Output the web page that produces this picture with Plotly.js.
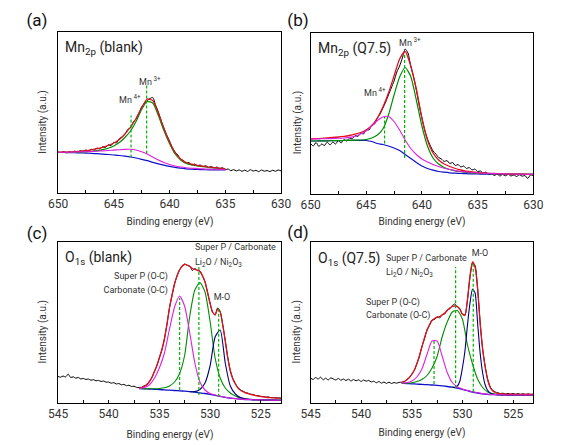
<!DOCTYPE html>
<html>
<head>
<meta charset="utf-8">
<script src="https://cdn.plot.ly/plotly-3.0.1.min.js"></script>
<style>html,body{margin:0;padding:0;background:#fff;}#chart{width:581px;height:445px;}</style>
</head>
<body>
<div id="chart"></div>
<script>
// ---------------- DATA ----------------
// Panel (a) Mn2p (blank): fits sampled from 650 to 635 eV every 0.5 eV, data 650 -> 630 every 0.25 eV
const aFitStart = 650, aFitStep = -0.5;
const aDataStart = 650, aDataStep = -0.25;
const aRed = [40.3,40.4,40.6,40.9,41.3,41.9,42.7,43.8,45.2,47.0,49.5,53.0,58.5,65.5,74.0,85.0,93.5,92.0,79.5,64.0,50.5,40.0,33.5,30.0,28.3,27.2,26.3,25.5,24.9,24.3,24.0];
const aGreen = [40.0,40.0,40.1,40.2,40.4,40.7,41.0,41.8,42.8,44.2,46.5,50.0,55.0,61.5,71.0,83.0,91.0,89.5,77.0,62.0,49.0,38.5,32.5,29.0,27.5,26.5,25.8,25.0,24.5,24.0,23.7];
const aMagenta = [40.2,40.2,40.3,40.4,40.6,40.8,41.0,41.3,41.6,42.0,42.4,42.8,43.1,43.2,42.5,40.8,38.5,35.5,32.5,30.0,28.0,26.5,25.5,24.8,24.3,23.9,23.6,23.4,23.2,23.0,22.9];
const aBlue = [40.0,40.0,39.9,39.8,39.6,39.4,39.1,38.8,38.4,38.0,37.5,37.0,36.3,35.5,34.5,33.2,31.8,30.2,28.7,27.3,26.1,25.1,24.3,23.7,23.3,23.0,22.8,22.7,22.6,22.5,22.5];
const aData = [40.5,40.0,41.0,39.8,40.6,40.2,41.4,40.5,41.8,41.0,
  42.5,41.6,43.2,42.4,44.5,43.6,45.8,45.0,47.8,46.8,
  50.2,49.5,54.0,55.5,58.0,63.0,64.5,70.5,73.5,79.0,
  85.5,89.0,92.0,94.0,95.0,87.5,80.5,72.0,64.5,57.5,
  51.5,45.0,40.5,37.5,33.0,32.0,29.5,30.0,27.5,28.5,
  26.8,27.5,25.8,26.8,25.0,26.0,24.5,25.5,23.8,24.8,
  22.8,23.5,21.8,22.9,21.5,22.6,21.2,22.4,21.0,22.8,
  21.4,22.2,20.8,22.5,21.3,22.0,20.9,22.3,21.2,22.5,
  21.6];
const aPeakEv = [643.45, 642.05];
const aPeakBase = [35, 39];
const aPeakTop = [77, 107];
const aPeakLabels = ["Mn<sup> 4+</sup>", "Mn<sup> 3+</sup>"];

// Panel (b) Mn2p (Q7.5): fits 650 -> 630 every 0.5 eV, data 650 -> 630 every 0.25 eV
const bFitStart = 650, bFitStep = -0.5;
const bDataStart = 650, bDataStep = -0.25;
const bRed = [55.0,55.3,55.6,56.0,56.5,57.0,57.6,58.5,59.8,61.5,64.0,68.5,76.0,87.0,101.0,118.0,135.0,142.5,128.0,105.0,76.0,54.0,41.0,34.0,30.0,27.5,25.5,24.0,22.8,22.0,21.4,21.0,20.7,20.5,20.3,20.1,20.0,19.9,19.8,19.7,19.7];
const bGreen = [53.0,53.0,53.1,53.2,53.3,53.4,53.5,53.6,53.8,54.0,54.5,56.0,59.0,65.0,79.0,99.0,117.0,126.5,117.5,94.0,68.0,48.0,36.0,30.0,26.5,24.5,23.2,22.3,21.6,21.1,20.8,20.6,20.4,20.2,20.1,20.0,19.9,19.8,19.8,19.7,19.7];
const bMagenta = [55.0,55.1,55.2,55.3,55.5,55.7,56.0,56.6,57.8,60.0,63.0,68.0,73.5,77.0,77.5,72.5,64.0,54.0,45.5,39.5,35.0,32.0,29.5,27.5,25.8,24.5,23.4,22.5,22.0,21.5,21.1,20.8,20.6,20.4,20.2,20.1,20.0,19.9,19.8,19.7,19.7];
const bBlue = [53.0,53.0,53.1,53.2,53.3,53.4,53.5,53.6,53.7,53.7,53.5,52.5,50.5,49.5,48.0,46.0,43.5,39.5,35.5,31.5,28.0,25.5,23.8,22.5,21.8,21.2,20.8,20.5,20.3,20.1,20.0,19.9,19.8,19.8,19.7,19.7,19.7,19.7,19.7,19.7,19.7];
const bData = [50.5,48.0,51.5,47.5,50.0,48.5,51.8,49.0,52.0,50.0,
  53.5,51.0,54.5,53.0,56.0,55.0,58.5,57.5,61.0,60.0,
  64.5,64.0,69.0,70.0,76.0,80.0,86.0,92.0,99.0,106.0,
  113.0,122.0,128.0,136.0,145.0,141.0,128.0,117.0,104.0,89.0,
  76.0,64.0,55.0,48.5,43.0,40.0,36.5,35.0,32.5,33.5,
  30.5,31.5,28.5,29.5,27.0,28.0,25.5,26.5,24.0,25.0,
  22.5,23.0,21.0,22.0,19.5,20.5,18.5,19.8,18.0,19.5,
  18.2,19.6,18.0,19.0,17.5,19.2,17.8,18.5,15.5,19.0,
  18.5];
const bPeakEv = [643.35, 641.55];
const bPeakBase = [50.5, 36];
const bPeakTop = [77, 140];
const bPeakLabels = ["Mn<sup> 4+</sup>", "Mn<sup> 3+</sup>"];

// Panel (c) O1s (blank): fits 537 -> 523 (0.5 eV; red 0.25 eV), navy 532 -> 523, data 545 -> 523 every 0.25 eV
const cFitStart = 537, cFitStep = -0.5;
const cRedStart = 537, cRedStep = -0.25;
const cNavyStart = 532, cNavyStep = -0.5;
const cDataStart = 545, cDataStep = -0.25;
const cBlue = [14.5,14.2,14.0,13.7,13.4,13.1,12.8,12.5,12.2,11.8,11.3,10.8,10.2,9.5,8.6,7.6,6.6,5.7,4.9,4.3,3.8,3.5,3.3,3.1,3.0,2.9,2.8,2.8,2.7];
const cMagenta = [14.6,15.5,18.0,24.5,35.0,50.0,74.0,96.0,107.0,96.5,70.0,40.0,21.0,13.0,9.5,8.0,6.8,5.8,5.0,4.4,3.9,3.6,3.4,3.2,3.1,3.0,2.9,2.8,2.8];
const cGreen = [14.5,14.3,14.2,14.2,14.5,15.2,17.0,21.0,29.5,48.0,87.0,113.0,120.5,111.0,82.0,45.0,25.0,15.0,10.0,7.0,5.0,4.0,3.5,3.2,3.1,3.0,2.9,2.8,2.8];
const cNavy = [11.3,11.4,13.5,20.0,37.0,66.0,73.0,40.0,17.0,9.0,5.5,4.2,3.6,3.3,3.1,3.0,2.9,2.8,2.8];
const cRed = [14.8,15.5,16.5,18.5,21.0,25.5,31.0,37.5,45.0,53.5,
  64.0,79.0,95.0,108.0,119.0,127.5,133.0,137.0,138.5,138.0,
  136.5,134.5,133.5,133.0,131.5,127.5,121.0,111.0,99.5,91.0,
  88.0,94.0,91.0,78.0,62.0,45.0,32.0,24.0,19.0,15.0,
  12.8,11.3,10.2,9.3,8.6,8.0,7.4,6.9,6.5,6.1,
  5.8,5.5,5.3,5.1,4.9,4.8,4.7];
const cData = [26.5,25.8,27.0,26.0,29.0,25.5,26.2,24.8,25.5,24.0,
  24.6,23.5,24.0,22.8,23.3,22.2,22.6,21.5,22.0,20.8,
  21.0,19.8,20.4,19.0,19.5,18.2,18.6,17.3,17.8,16.5,
  16.8,15.6,15.5,15.8,17.2,18.0,21.5,25.0,31.5,37.0,
  45.5,53.0,64.5,78.5,95.5,107.5,119.5,127.0,133.5,136.5,
  139.0,137.5,137.0,132.5,134.5,132.5,132.0,127.0,121.5,110.5,
  100.0,90.5,88.5,95.0,91.5,78.5,62.5,45.5,32.5,24.5,
  19.5,15.5,13.0,11.8,10.5,9.8,8.8,8.5,7.5,7.4,
  6.6,6.5,5.9,6.0,5.4,5.5,5.0,5.2,4.8];
const cPeakEv = [533.0, 531.1, 529.15];
const cPeakBase = [13, 8, 6.3];
const cPeakTop = [105, 136, 95];
const cLabels = ["Super P (O-C)", "Carbonate (O-C)", "Super P / Carbonate", "Li<sub>2</sub>O / Ni<sub>2</sub>O<sub>3</sub>", "M-O"];

// Panel (d) O1s (Q7.5): fits 536 -> 523 (0.5 eV; red & navy 0.25 eV), data 545 -> 523 every 0.25 eV
const dFitStart = 536, dFitStep = -0.5;
const dRedStart = 536, dRedStep = -0.25;
const dNavyStart = 531, dNavyStep = -0.25;
const dDataStart = 545, dDataStep = -0.25;
const dBlue = [19.8,19.5,19.2,18.9,18.6,18.3,18.0,17.6,17.1,16.5,15.8,14.8,13.6,12.3,11.0,10.0,9.2,8.7,8.4,8.2,8.1,8.0,8.0,8.0,8.0,8.0,8.0];
const dMagenta = [19.9,20.3,22.0,26.0,34.0,48.5,62.0,62.0,47.0,30.5,20.5,16.0,14.0,12.5,11.2,10.2,9.4,8.8,8.5,8.3,8.1,8.0,8.0,8.0,8.0,8.0,8.0];
const dGreen = [19.8,19.7,20.3,21.5,23.5,27.5,35.0,46.5,66.0,81.0,91.0,92.5,84.0,58.0,39.0,24.0,15.5,11.0,9.2,8.6,8.3,8.1,8.0,8.0,8.0,8.0,8.0];
const dNavy = [15.8,15.8,17.0,22.0,35.0,52.0,78.0,100.0,114.0,110.0,
  80.0,50.0,30.0,18.0,12.5,10.0,9.0,8.5,8.3,8.2,
  8.1,8.0,8.0,8.0,8.0,8.0,8.0,8.0,8.0,8.0,8.0,8.0,8.0];
const dRed = [20.5,21.5,23.0,25.5,28.5,33.0,39.0,47.0,56.0,65.0,
  72.5,78.5,82.5,84.5,85.5,86.5,88.0,90.0,92.5,95.0,
  96.5,97.0,96.5,93.5,89.0,87.5,103.0,127.0,141.0,136.0,
  115.0,80.0,54.0,36.0,23.0,15.5,12.0,10.5,9.7,9.3,
  9.0,8.9,8.8,8.8,8.7,8.7,8.6,8.6,8.6,8.5,
  8.5,8.5,8.5];
const dData = [25.0,23.5,25.5,24.0,25.8,23.2,24.8,23.0,25.2,24.0,
  23.0,24.5,22.8,24.0,22.5,23.8,22.0,23.5,22.2,23.2,
  21.5,23.0,21.8,22.6,21.0,21.8,20.2,21.5,19.8,21.0,
  19.6,20.8,19.5,20.5,19.8,20.6,20.8,21.2,23.5,25.0,
  29.0,32.5,39.5,46.5,56.5,64.0,73.0,77.5,83.0,83.5,
  86.5,85.0,88.5,89.0,93.0,94.0,97.5,99.0,96.0,94.5,
  88.5,88.0,103.5,126.0,140.0,137.5,114.0,81.0,53.5,36.5,
  23.5,16.0,12.5,11.0,10.2,9.5,9.8,9.0,9.6,8.9,
  9.5,8.8,9.4,8.7,9.3,8.6,9.2,8.6,9.0];
const dPeakEv = [532.8, 530.67, 528.93];
const dPeakBase = [19, 14.7, 11.3];
const dPeakTop = [62, 136, 141];
const dLabels = ["Super P (O-C)", "Carbonate (O-C)", "Super P / Carbonate", "Li<sub>2</sub>O / Ni<sub>2</sub>O<sub>3</sub>", "M-O"];

const panelTitles = ["Mn<sub>2p</sub> (blank)", "Mn<sub>2p</sub> (Q7.5)", "O<sub>1s</sub> (blank)", "O<sub>1s</sub> (Q7.5)"];
const panelLetters = ["(a)", "(b)", "(c)", "(d)"];
const xTitle = "Binding energy (eV)";
const yTitle = "Intensity (a.u.)";

// ---------------- STYLE / LAYOUT ----------------
const W = 581, H = 445;
const FONT = 'Roboto, "Noto Sans", sans-serif';
const C = {data:'#000000', red:'#e0101e', green:'#008c00', magenta:'#e020e0', blue:'#1010c8', navy:'#00007a', dash:'#00b400'};
const px = v => v / W;
const py = v => 1 - v / H;

function line(ax, x0, dx, y, color, width) {
  return {type:'scatter', mode:'lines', x0:x0, dx:dx, y:y, xaxis:'x'+ax, yaxis:'y'+ax,
          line:{color:color, width:width, shape:'spline', smoothing:0.6}, hoverinfo:'skip', showlegend:false};
}
function dashes(ax, ev, base, top) {
  const out = [];
  for (let i = 0; i < ev.length; i++) {
    out.push({type:'scatter', mode:'lines', x:[ev[i], ev[i]], y:[base[i], top[i]], xaxis:'x'+ax, yaxis:'y'+ax,
      line:{color:C.dash, width:1.2, dash:'3px,2px'}, hoverinfo:'skip', showlegend:false});
  }
  return out;
}

const traces = [
  // (a)
  line('', aDataStart, aDataStep, aData, C.data, 1),
  line('', aFitStart, aFitStep, aBlue, C.blue, 1.2),
  line('', aFitStart, aFitStep, aGreen, C.green, 1.2),
  line('', aFitStart, aFitStep, aRed, C.red, 1.2),
  line('', aFitStart, aFitStep, aMagenta, C.magenta, 1.1),
  ...dashes('', aPeakEv, aPeakBase, aPeakTop),
  // (b)
  line('2', bDataStart, bDataStep, bData, C.data, 1),
  line('2', bFitStart, bFitStep, bBlue, C.blue, 1.2),
  line('2', bFitStart, bFitStep, bGreen, C.green, 1.2),
  line('2', bFitStart, bFitStep, bRed, C.red, 1.3),
  line('2', bFitStart, bFitStep, bMagenta, C.magenta, 1.1),
  ...dashes('2', bPeakEv, bPeakBase, bPeakTop),
  // (c)
  line('3', cDataStart, cDataStep, cData, C.data, 1),
  line('3', cFitStart, cFitStep, cBlue, C.blue, 1.3),
  line('3', cFitStart, cFitStep, cGreen, C.green, 1.1),
  line('3', cNavyStart, cNavyStep, cNavy, C.navy, 1.1),
  line('3', cRedStart, cRedStep, cRed, C.red, 1.3),
  line('3', cFitStart, cFitStep, cMagenta, C.magenta, 1.1),
  ...dashes('3', cPeakEv, cPeakBase, cPeakTop),
  // (d)
  line('4', dDataStart, dDataStep, dData, C.data, 1),
  line('4', dFitStart, dFitStep, dBlue, C.blue, 1.3),
  line('4', dFitStart, dFitStep, dGreen, C.green, 1.1),
  line('4', dNavyStart, dNavyStep, dNavy, C.navy, 1.1),
  line('4', dRedStart, dRedStep, dRed, C.red, 1.3),
  line('4', dFitStart, dFitStep, dMagenta, C.magenta, 1.1),
  ...dashes('4', dPeakEv, dPeakBase, dPeakTop)
];

function xAxis(domain, range, anchor) {
  return {domain:domain, range:range, anchor:anchor, showline:true, mirror:true, linecolor:'#000', linewidth:1,
    showgrid:false, zeroline:false, ticks:'inside', ticklen:3, tickwidth:1, tickcolor:'#000', dtick:5, tick0:0,
    minor:{ticks:'inside', ticklen:3, dtick:2.5, tick0:0, tickcolor:'#000', showgrid:false},
    tickfont:{family:FONT, size:12, color:'#333'}, fixedrange:true};
}
function yAxis(domain, range, anchor) {
  return {domain:domain, range:range, anchor:anchor, showline:true, mirror:true, linecolor:'#000', linewidth:1,
    showgrid:false, zeroline:false, ticks:'', showticklabels:false, fixedrange:true};
}

const dxL = [px(58), px(281)], dxR = [px(310.5), px(533.3)];
const layout = {
  width:W, height:H, margin:{l:0, r:0, t:0, b:0}, paper_bgcolor:'#fff', plot_bgcolor:'#fff', showlegend:false,
  font:{family:FONT, color:'#333', size:12},
  xaxis: xAxis(dxL, [650, 630], 'y'),
  yaxis: yAxis([py(192.5), py(32)], [0, 160.5], 'x'),
  xaxis2: xAxis(dxR, [650, 630], 'y2'),
  yaxis2: yAxis([py(194), py(33)], [0, 161], 'x2'),
  xaxis3: xAxis(dxL, [545, 523], 'y3'),
  yaxis3: yAxis([py(403), py(242)], [0, 161], 'x3'),
  xaxis4: xAxis(dxR, [545, 523], 'y4'),
  yaxis4: yAxis([py(403), py(242)], [0, 161], 'x4'),
  annotations: []
};
const A = layout.annotations;
function paperText(text, x, y, size, color, w, h, opts) {
  A.push(Object.assign({text:text, x:px(x), y:py(y), xref:'paper', yref:'paper', showarrow:false,
    xanchor:'center', yanchor:'middle', width:w, height:h, align:'center', valign:'middle',
    font:{family:FONT, size:size, color:color}}, opts || {}));
}
function dataText(ax, text, x, y, xanchor, w) {
  const anc = xanchor || 'center';
  A.push({text:text, x:x, y:y, xref:'x'+ax, yref:'y'+ax, showarrow:false, xanchor:anc, align:anc,
    yanchor:'middle', valign:'middle', width:w, height:16, font:{family:FONT, size:9, color:'#333'}});
}
// panel letters
paperText(panelLetters[0], 36.5, 20, 17, '#111', 28, 24);
paperText(panelLetters[1], 298, 20, 17, '#111', 28, 24);
paperText(panelLetters[2], 36.5, 233, 17, '#111', 28, 24);
paperText(panelLetters[3], 298, 232, 17, '#111', 28, 24);
// inner titles
paperText(panelTitles[0], 63, 48, 14, '#222', 100, 24, {xanchor:'left', align:'left'});
paperText(panelTitles[1], 316, 48.5, 14, '#222', 100, 24, {xanchor:'left', align:'left'});
paperText(panelTitles[2], 63, 258, 14, '#222', 100, 24, {xanchor:'left', align:'left'});
paperText(panelTitles[3], 316, 258.5, 14, '#222', 100, 24, {xanchor:'left', align:'left'});
// axis titles
paperText(xTitle, 169.5, 222, 10, '#333', 110, 16);
paperText(xTitle, 422, 222, 10, '#333', 110, 16);
paperText(xTitle, 169.5, 435, 10, '#333', 110, 16);
paperText(xTitle, 421.5, 433, 10, '#333', 110, 16);
paperText(yTitle, 43, 122, 10, '#333', 90, 16, {textangle:-90});
paperText(yTitle, 297, 122.5, 10, '#333', 90, 16, {textangle:-90});
paperText(yTitle, 43, 331.7, 10, '#333', 90, 16, {textangle:-90});
paperText(yTitle, 297, 331.7, 10, '#333', 90, 16, {textangle:-90});
// peak labels
dataText('', aPeakLabels[0], 643.5, 93.3, 'center', 34);
dataText('', aPeakLabels[1], 641.75, 112, 'center', 34);
dataText('2', bPeakLabels[0], 644.2, 102, 'center', 34);
dataText('2', bPeakLabels[1], 641.1, 152.5, 'center', 34);
dataText('3', cLabels[0], 534.0, 127, 'right', 80);
dataText('3', cLabels[1], 534.0, 113.5, 'right', 80);
dataText('3', cLabels[2], 531.65, 155.5, 'left', 96);
dataText('3', cLabels[3], 531.65, 140.5, 'left', 96);
dataText('3', cLabels[4], 528.86, 106.5, 'center', 30);
dataText('4', dLabels[0], 539.7, 101, 'left', 80);
dataText('4', dLabels[1], 539.7, 88, 'left', 80);
dataText('4', dLabels[2], 537.75, 145.5, 'left', 96);
dataText('4', dLabels[3], 537.75, 130, 'left', 96);
dataText('4', dLabels[4], 528.27, 150.3, 'center', 30);

Plotly.newPlot('chart', traces, layout, {staticPlot:true, displayModeBar:false});
</script>
</body>
</html>
